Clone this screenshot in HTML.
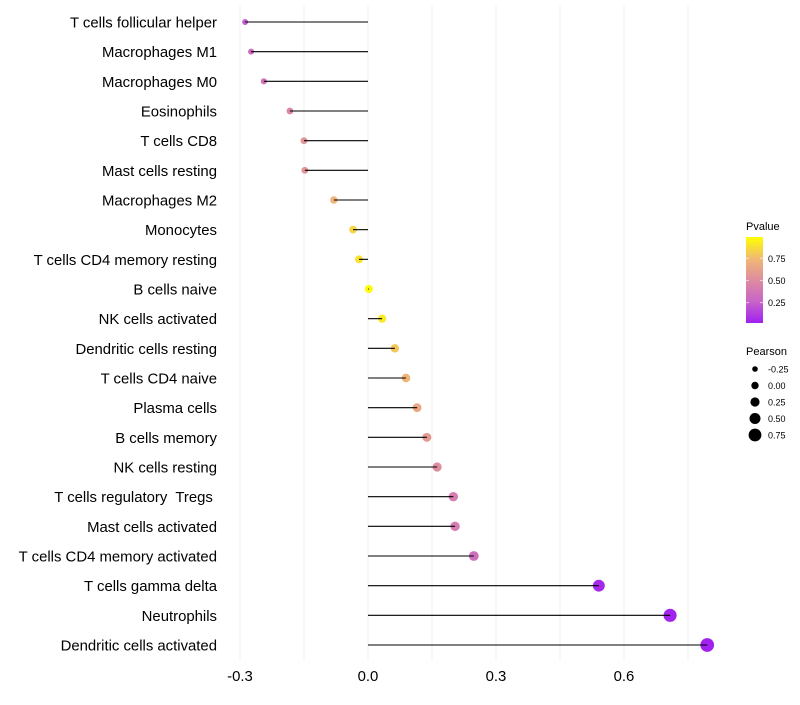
<!DOCTYPE html>
<html><head><meta charset="utf-8"><style>
body{margin:0;background:#fff;font-family:"Liberation Sans",sans-serif}
text{white-space:pre}
</style></head><body>
<svg id="chart" width="800" height="700" xmlns="http://www.w3.org/2000/svg" font-family="Liberation Sans, sans-serif"></svg>
<script>
const categories=["T cells follicular helper","Macrophages M1","Macrophages M0","Eosinophils","T cells CD8","Mast cells resting","Macrophages M2","Monocytes","T cells CD4 memory resting","B cells naive","NK cells activated","Dendritic cells resting","T cells CD4 naive","Plasma cells","B cells memory","NK cells resting","T cells regulatory  Tregs ","Mast cells activated","T cells CD4 memory activated","T cells gamma delta","Neutrophils","Dendritic cells activated"];
const pearson=[-0.288,-0.274,-0.244,-0.183,-0.15,-0.148,-0.08,-0.035,-0.021,0.002,0.033,0.063,0.089,0.115,0.138,0.162,0.2,0.204,0.248,0.541,0.708,0.795];
const pvalue=[0.22,0.3,0.35,0.45,0.55,0.55,0.72,0.85,0.9,0.99,0.92,0.8,0.72,0.65,0.58,0.5,0.4,0.4,0.32,0.03,0.01,0.003];
const xTicks=[-0.3,0,0.3,0.6];
const xTickLabels=["-0.3","0.0","0.3","0.6"];
const xMinor=[-0.15,0.15,0.45,0.75];
const legendP=[0.75,0.5,0.25];
const legendSize=[-0.25,0,0.25,0.5,0.75];

const svg=document.getElementById('chart');
const NS="http://www.w3.org/2000/svg";
function mk(t,a,p){const e=document.createElementNS(NS,t);for(const k in a)e.setAttribute(k,a[k]);(p||svg).appendChild(e);return e;}
const x=v=>368+v*426.67;
const y=i=>22+i*29.667;
const r=v=>Math.max(1.7,4.0+3.6*v);
const stops=[[0,[160,32,240]],[0.25,[200,100,200]],[0.5,[222,140,160]],[0.75,[240,185,115]],[1,[255,255,0]]];
function col(p){for(let i=1;i<stops.length;i++){if(p<=stops[i][0]){const a=stops[i-1],b=stops[i],t=(p-a[0])/(b[0]-a[0]);return 'rgb('+a[1].map((c,j)=>Math.round(c+(b[1][j]-c)*t)).join(',')+')';}}return 'rgb(255,255,0)';}

const grid=mk('g',{});


xMinor.concat(xTicks).forEach(v=>{const l=mk('line',{x1:x(v),x2:x(v),y1:5,y2:662,stroke:'#f0f0f0','stroke-width':1},grid);});

categories.forEach((c,i)=>{
  const t=mk('text',{x:217,y:y(i)+5.5,'text-anchor':'end','font-size':14.9,fill:'#000'});
  t.textContent=c;
  
  
  const dot=mk('circle',{cx:x(pearson[i]),cy:y(i),r:r(pearson[i]),fill:col(pvalue[i])});
  
  
  const ln=mk('line',{x1:x(0),x2:x(pearson[i]),y1:y(i),y2:y(i),stroke:'#000','stroke-width':1.1});
  
  
});
xTicks.forEach((v,i)=>{
  const t=mk('text',{x:x(v),y:681,'text-anchor':'middle','font-size':14.9,fill:'#000'});
  t.textContent=xTickLabels[i];
  
  
});
const lg=mk('g',{});


const tt=mk('text',{x:746,y:230,'font-size':11,fill:'#000'},lg);tt.textContent='Pvalue';
const defs=mk('defs',{});
const gr=mk('linearGradient',{id:'pg',x1:0,y1:1,x2:0,y2:0},defs);
stops.forEach(s=>mk('stop',{offset:s[0],'stop-color':'rgb('+s[1].join(',')+')'},gr));
const pTop=237,pBot=323,pv=p=>pBot-(p-0.02)/(0.99-0.02)*(pBot-pTop);
mk('rect',{x:746,y:pTop,width:17,height:pBot-pTop,fill:'url(#pg)'},lg);
legendP.forEach(p=>{
  mk('line',{x1:746,x2:749,y1:pv(p),y2:pv(p),stroke:'#fff','stroke-opacity':0.6},lg);
  mk('line',{x1:760,x2:763,y1:pv(p),y2:pv(p),stroke:'#fff','stroke-opacity':0.6},lg);
  const t=mk('text',{x:768,y:pv(p)+3.5,'font-size':9,fill:'#000'},lg);t.textContent=p.toFixed(2);
});
const sg=mk('g',{});


const st=mk('text',{x:746,y:355,'font-size':11,fill:'#000'},sg);st.textContent='Pearson';
legendSize.forEach((v,i)=>{
  const cy=369+i*16.5;
  mk('circle',{cx:755,cy:cy,r:r(v)-0.3,fill:'#000'},sg);
  const t=mk('text',{x:768,y:cy+3.5,'font-size':9,fill:'#000'},sg);t.textContent=v.toFixed(2);
});
</script>
</body></html>
